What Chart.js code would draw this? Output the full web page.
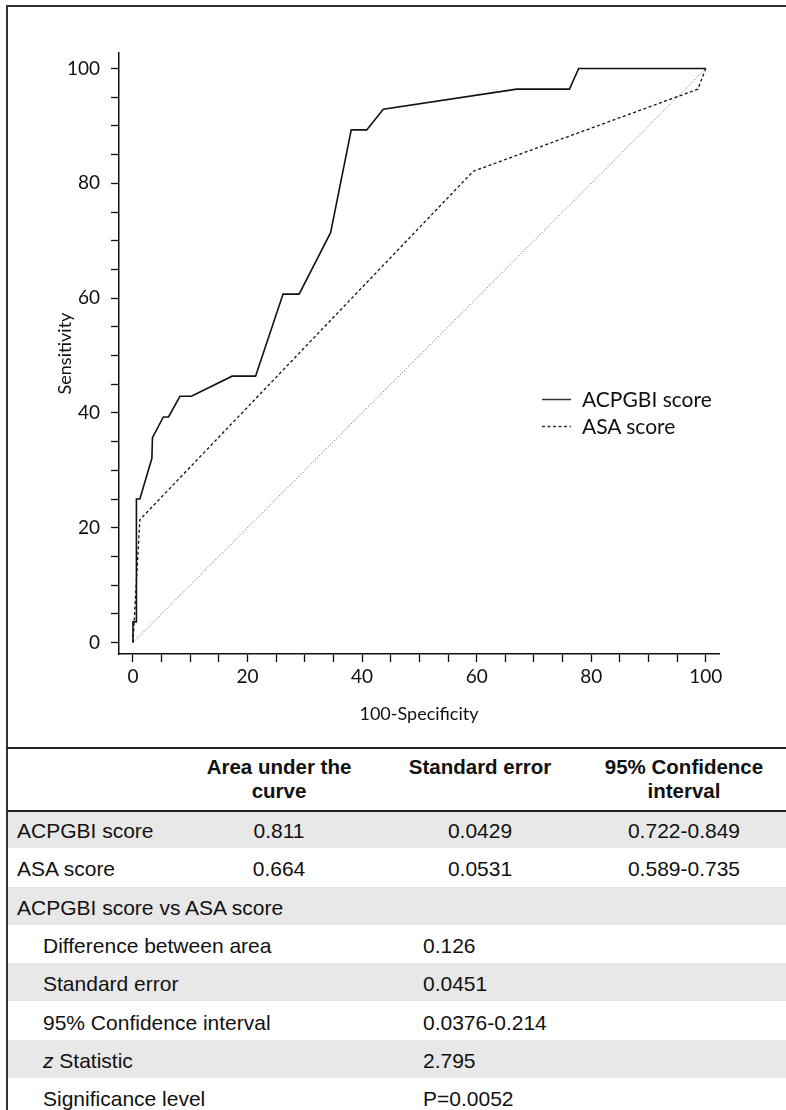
<!DOCTYPE html>
<html>
<head>
<meta charset="utf-8">
<script src="https://cdn.jsdelivr.net/npm/chart.js@4.4.1/dist/chart.umd.min.js"></script>
<style>
  body { margin: 0; background: #fff; width: 786px; height: 1110px; overflow: hidden; position: relative; color: #111; }
  #frame { position: absolute; left: 6px; top: 5px; width: 800px; height: 1200px; border-left: 2px solid #333; border-top: 2px solid #333; }
  #plot { position: absolute; left: 0; top: 0; }
  .legend { position: absolute; left: 540px; font-family: Lato, sans-serif; font-size: 21px; height: 26px; line-height: 26px; }
  .legend svg { position: absolute; left: 0; top: 0; }
  .legend span { position: absolute; left: 42px; top: 0; white-space: nowrap; }
  .tline { position: absolute; left: 6px; width: 790px; background: #222; }
  .row { position: absolute; left: 8px; width: 790px; height: 38.3px; font-family: 'Liberation Sans', Arial, sans-serif; font-size: 21px; }
  .row.gray { background: #e8e8e8; }
  .row div { position: absolute; top: 0; height: 38.3px; line-height: 42px; white-space: nowrap; }
  .c1 { left: 9px; }
  .ind { left: 35px; }
  .cv { left: 415px; }
  .cc { width: 200px; text-align: center; }
  .head { position: absolute; top: 755px; width: 220px; text-align: center; font-family: 'Liberation Sans', Arial, sans-serif; font-weight: bold; font-size: 20.5px; line-height: 24px; }
</style>
</head>
<body>
<div id="frame"></div>
<canvas id="plot" width="786" height="746"></canvas>

<div class="legend" style="top:386px">
  <svg width="40" height="26"><line x1="2" y1="13.5" x2="31" y2="13.5" stroke="#333" stroke-width="1.5"/></svg>
  <span>ACPGBI score</span>
</div>
<div class="legend" style="top:413px">
  <svg width="40" height="26"><line x1="2" y1="13.5" x2="31" y2="13.5" stroke="#333" stroke-width="1.3" stroke-dasharray="3,2.5"/></svg>
  <span>ASA score</span>
</div>

<div class="tline" style="top:747px;height:2px"></div>
<div class="head" style="left:169px">Area under the<br>curve</div>
<div class="head" style="left:370px">Standard error</div>
<div class="head" style="left:574px">95% Confidence<br>interval</div>
<div id="table"></div>
<div class="tline" style="top:810px;height:1.5px"></div>

<script>
// ROC curves (100-Specificity, Sensitivity)
const acpgbiX = [0, 0, 0.6, 0.6, 1.2, 3.3, 3.4, 5.3, 6.2, 8.2, 10.2, 17.3, 21.4, 26.2, 29.0, 34.5, 38.1, 40.8, 43.7, 67.0, 76.2, 77.8, 100];
const acpgbiY = [0, 3.6, 3.6, 25.0, 25.0, 32.1, 35.7, 39.3, 39.3, 42.9, 42.9, 46.4, 46.4, 60.7, 60.7, 71.4, 89.3, 89.3, 92.9, 96.4, 96.4, 100, 100];

const asaX = [0, 1.2, 59.4, 98.6, 100];
const asaY = [0, 21.4, 82.1, 96.4, 100];

const diagX = [0, 100];
const diagY = [0, 100];

const tickLabels = [0, 20, 40, 60, 80, 100];

// table
const headRows = ['ACPGBI score', 'ASA score'];
const aucValues = ['0.811', '0.664'];
const seValues = ['0.0429', '0.0531'];
const ciValues = ['0.722-0.849', '0.589-0.735'];
const compareTitle = 'ACPGBI score vs ASA score';
const compareLabels = ['Difference between area', 'Standard error', '95% Confidence interval', 'z Statistic', 'Significance level'];
const compareValues = ['0.126', '0.0451', '0.0376-0.214', '2.795', 'P=0.0052'];

function points(xs, ys) {
    return xs.map((x, i) => ({ x: x, y: ys[i] }));
}

const tickFont = { family: 'Lato', size: 19 };
const titleFont = { family: 'Lato', size: 18 };

function axisTicks(v) {
    return tickLabels.includes(v) ? String(v) : '';
}

new Chart(document.getElementById('plot'), {
    type: 'scatter',
    data: {
        datasets: [
            { label: 'ACPGBI score', data: points(acpgbiX, acpgbiY), showLine: true, borderColor: '#111', borderWidth: 1.6, pointRadius: 0, tension: 0 },
            { label: 'ASA score', data: points(asaX, asaY), showLine: true, borderColor: '#111', borderWidth: 1.3, borderDash: [3, 2.5], pointRadius: 0, tension: 0 },
            { label: 'reference', data: points(diagX, diagY), showLine: true, borderColor: '#555', borderWidth: 1, borderDash: [1, 2], pointRadius: 0, tension: 0 }
        ]
    },
    options: {
        responsive: false,
        animation: false,
        layout: { padding: { left: 0, top: 53, right: 67, bottom: 0 } },
        plugins: { legend: { display: false }, tooltip: { enabled: false } },
        scales: {
            x: {
                type: 'linear',
                min: -2.44,
                max: 102.3,
                afterFit: (scale) => { scale.height = 92; },
                ticks: { stepSize: 5, includeBounds: false, autoSkip: false, maxRotation: 0, padding: 3, color: '#111', font: tickFont, callback: axisTicks },
                grid: { drawOnChartArea: false, drawTicks: true, tickLength: 8, color: '#111', tickWidth: 1.3 },
                border: { display: true, color: '#111', width: 1.5 },
                title: { display: true, text: '100-Specificity', color: '#111', font: titleFont, padding: { top: 0, bottom: 21 } }
            },
            y: {
                type: 'linear',
                min: -2.0,
                max: 102.7,
                afterFit: (scale) => { scale.width = 119; },
                ticks: { stepSize: 5, includeBounds: false, autoSkip: false, padding: 11, color: '#111', font: tickFont, callback: axisTicks },
                grid: { drawOnChartArea: false, drawTicks: true, tickLength: 8, color: '#111', tickWidth: 1.3 },
                border: { display: true, color: '#111', width: 1.5 },
                title: { display: true, text: 'Sensitivity', color: '#111', font: titleFont, padding: { top: 54, bottom: 0 } }
            }
        }
    }
});

// build the table rows
const table = document.getElementById('table');
let rowTop = 810;
let rowCount = 0;
function addRow(cells) {
    const row = document.createElement('div');
    row.className = 'row' + (rowCount % 2 === 0 ? ' gray' : '');
    row.style.top = rowTop + 'px';
    cells.forEach((c) => {
        const d = document.createElement('div');
        d.className = c.cls;
        if (c.left !== undefined) d.style.left = c.left + 'px';
        if (c.html) d.innerHTML = c.html; else d.textContent = c.text;
        row.appendChild(d);
    });
    table.appendChild(row);
    rowTop += 38.3;
    rowCount++;
}
headRows.forEach((name, i) => {
    addRow([
        { cls: 'c1', text: name },
        { cls: 'cc', left: 171, text: aucValues[i] },
        { cls: 'cc', left: 372, text: seValues[i] },
        { cls: 'cc', left: 576, text: ciValues[i] }
    ]);
});
addRow([{ cls: 'c1', text: compareTitle }]);
compareLabels.forEach((label, i) => {
    const html = label === 'z Statistic' ? '<i>z</i> Statistic' : null;
    addRow([
        { cls: 'ind', text: label, html: html },
        { cls: 'cv', text: compareValues[i] }
    ]);
});
</script>
</body>
</html>
